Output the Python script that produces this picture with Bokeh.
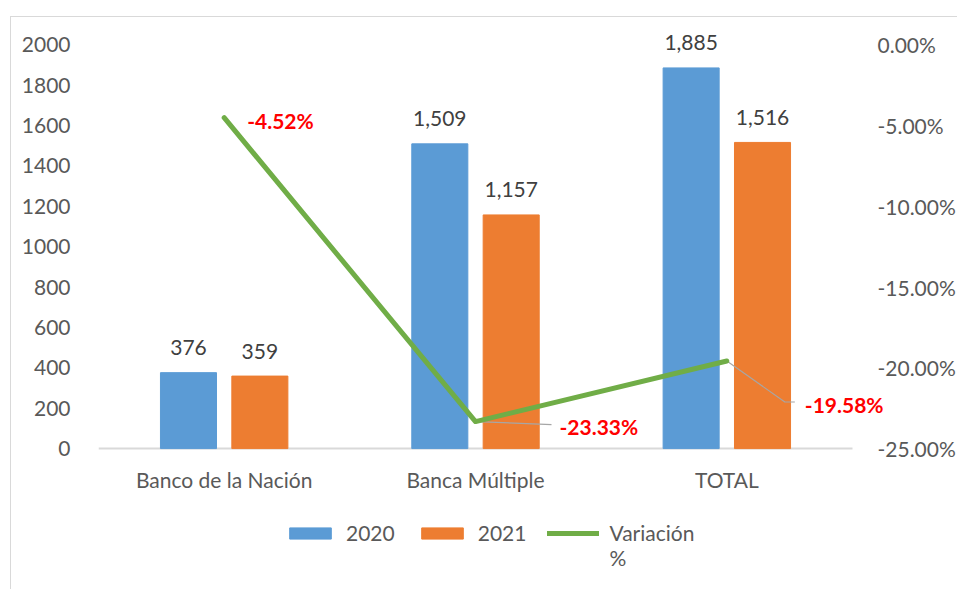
from bokeh.plotting import figure
from bokeh.models import (ColumnDataSource, Range1d, LinearAxis, FixedTicker,
                          NumeralTickFormatter, Legend, LegendItem)
from bokeh.transform import dodge
from bokeh.core.properties import value
from bokeh.embed import file_html
from bokeh.resources import INLINE

# ---- data ----
categories = ["Banco de la Nación", "Banca Múltiple", "TOTAL"]
values_2020 = [376, 1509, 1885]
values_2021 = [359, 1157, 1516]
variacion = [-0.0452, -0.2333, -0.1958]
variacion_labels = ["-4.52%", "-23.33%", "-19.58%"]
left_ticks = [0, 200, 400, 600, 800, 1000, 1200, 1400, 1600, 1800, 2000]
right_ticks = [0.0, -0.05, -0.10, -0.15, -0.20, -0.25]

# ---- style / layout ----
FONT = "Lato"
FS = "21px"
BLUE, ORANGE, GREEN = "#5B9BD5", "#ED7D31", "#70AD47"
PX_PER_CAT = 754 / 3          # pixel width of one category
PX_PER_UNIT = 404 / 2000      # pixel per bar unit
FRAME_W = 792
Y_MAX, P_MIN = 2000, -0.25    # aligned axis extents (bars / percentages)
Y_TOP, Y_BOTTOM = 2100, -678  # headroom for labels / room for legend
FRAME_H = round((Y_TOP - Y_BOTTOM) * PX_PER_UNIT)
PCT_PER_UNIT = -P_MIN / Y_MAX
P_TOP = (Y_TOP - Y_MAX) * PCT_PER_UNIT
P_BOTTOM = P_MIN + Y_BOTTOM * PCT_PER_UNIT

xs = [i + 0.5 for i in range(len(categories))]

src = ColumnDataSource(dict(
    x=xs, v2020=values_2020, v2021=values_2021,
    l2020=[f"{v:,}" for v in values_2020], l2021=[f"{v:,}" for v in values_2021],
    var=variacion, vlab=variacion_labels,
    xo=[23, 84, 78], yo=[3, 5, 43],   # label offsets (pixels)
))

p = figure(x_range=Range1d(0, FRAME_W / PX_PER_CAT), y_range=Range1d(Y_BOTTOM, Y_TOP),
           frame_width=FRAME_W, frame_height=FRAME_H,
           min_border_left=87, min_border_right=67, min_border_top=7, min_border_bottom=4,
           output_backend="svg", toolbar_location=None, outline_line_color=None)
p.margin = (16, 0, 0, 10)
p.styles = {"border-left": "1px solid #D9D9D9", "border-top": "1px solid #D9D9D9"}
p.extra_y_ranges = {"pct": Range1d(P_BOTTOM, P_TOP)}
p.xgrid.visible = False
p.ygrid.visible = False

# left axis
ya = p.yaxis[0]
ya.ticker = FixedTicker(ticks=left_ticks)
ya.axis_line_color = None
ya.major_tick_line_color = None
ya.minor_tick_line_color = None
ya.major_label_standoff = 22
ya.major_label_text_font = FONT
ya.major_label_text_font_size = FS
ya.major_label_text_color = "#595959"

# x axis (labels lifted up to sit under the zero line)
xa = p.xaxis[0]
xa.ticker = FixedTicker(ticks=xs)
xa.major_label_overrides = {x: c for x, c in zip(xs, categories)}
xa.axis_line_color = None
xa.major_tick_line_color = None
xa.minor_tick_line_color = None
xa.major_label_standoff = round(Y_BOTTOM * PX_PER_UNIT) + 12
xa.major_label_text_font = FONT
xa.major_label_text_font_size = FS
xa.major_label_text_color = "#595959"

# right axis
ra = LinearAxis(y_range_name="pct", ticker=FixedTicker(ticks=right_ticks),
                formatter=NumeralTickFormatter(format="0.00%"))
ra.axis_line_color = None
ra.major_tick_line_color = None
ra.minor_tick_line_color = None
ra.major_label_standoff = -19
ra.major_label_text_font = FONT
ra.major_label_text_font_size = FS
ra.major_label_text_color = "#595959"
p.add_layout(ra, "right")

# zero line (category axis line)
p.line(x=[0, len(categories)], y=[0, 0], line_color="#D9D9D9", line_width=2)

OFF, BW = 0.142, 0.223
b1 = p.vbar(x=dodge("x", -OFF), top="v2020", width=BW, source=src,
            fill_color=BLUE, line_color=BLUE)
b2 = p.vbar(x=dodge("x", OFF), top="v2021", width=BW, source=src,
            fill_color=ORANGE, line_color=ORANGE)

for col, lab, off in (("v2020", "l2020", -OFF), ("v2021", "l2021", OFF)):
    p.text(x=dodge("x", off), y=col, text=lab, source=src,
           text_align="center", text_baseline="middle", y_offset=-25,
           text_font=value(FONT), text_font_size=FS, text_color="#404040")

# leader lines (pixel offsets converted to data units)
px_x = 1 / PX_PER_CAT
px_y = PCT_PER_UNIT / PX_PER_UNIT
p.line(x=[xs[1], xs[1] + 76 * px_x], y=[variacion[1], variacion[1] - 3 * px_y],
       y_range_name="pct", line_color="#A6A6A6", line_width=1.2)
p.line(x=[xs[2], xs[2] + 58 * px_x, xs[2] + 68 * px_x],
       y=[variacion[2], variacion[2] - 41 * px_y, variacion[2] - 41 * px_y],
       y_range_name="pct", line_color="#A6A6A6", line_width=1.2)

ln = p.line(x="x", y="var", source=src, y_range_name="pct", line_color=GREEN,
            line_width=5, line_cap="round", line_join="round")

p.text(x="x", y="var", text="vlab", source=src, y_range_name="pct",
       x_offset="xo", y_offset="yo", text_align="left", text_baseline="middle",
       text_font=value(FONT), text_font_size=FS, text_font_style="bold", text_color="#FF0000")

legend = Legend(items=[LegendItem(label="2020", renderers=[b1]),
                       LegendItem(label="2021", renderers=[b2]),
                       LegendItem(label="\nVariación\n%", renderers=[ln])],
                orientation="horizontal", location=(186, 15),
                glyph_width=52, glyph_height=14, label_standoff=10, spacing=21,
                padding=0, margin=0, border_line_alpha=0, background_fill_alpha=0,
                label_text_font=FONT, label_text_font_size=FS, label_text_color="#595959",
                label_text_line_height=1.43)
p.add_layout(legend, "center")

open("out.html", "w").write(file_html(p, INLINE))
